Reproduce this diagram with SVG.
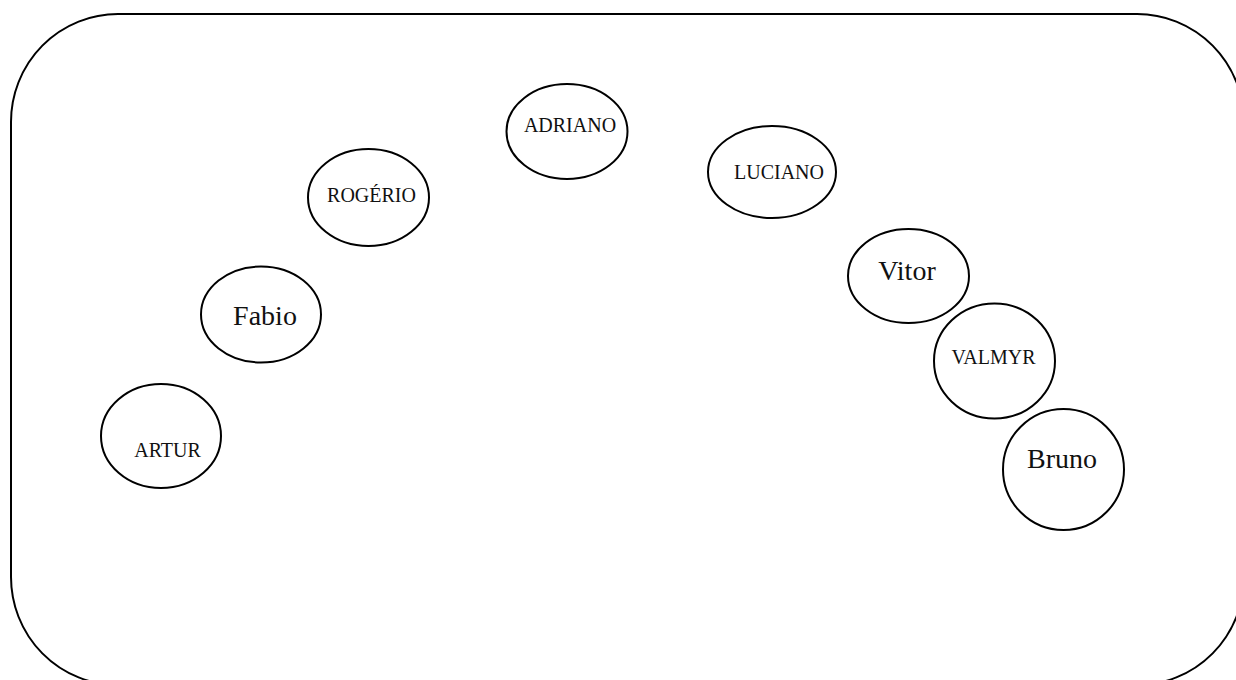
<svg xmlns="http://www.w3.org/2000/svg" width="1236" height="680" viewBox="0 0 1236 680">
<style>
.frame{fill:none;stroke:#000;stroke-width:2}
.node ellipse{fill:#fff;stroke:#000;stroke-width:2}
.node text{font-family:"Liberation Serif","DejaVu Serif",serif;fill:#111;text-anchor:middle}
.caps{font-size:20px}
.big{font-size:28px}
</style>
<rect class="frame" x="11" y="14" width="1233" height="671" rx="107" ry="108"/>
<g id="connectors"></g>
<g id="artur" class="node"><ellipse cx="161" cy="436" rx="60" ry="52"/><text class="caps" x="167.5" y="457">ARTUR</text></g>
<g id="fabio" class="node"><ellipse cx="261" cy="314.5" rx="60" ry="48"/><text class="big" x="265" y="325">Fabio</text></g>
<g id="rogerio" class="node"><ellipse cx="368.5" cy="197.5" rx="60.5" ry="48.5"/><text class="caps" x="371.5" y="201.5">ROGÉRIO</text></g>
<g id="adriano" class="node"><ellipse cx="567" cy="131.5" rx="60.5" ry="47.5"/><text class="caps" x="570" y="131.5">ADRIANO</text></g>
<g id="luciano" class="node"><ellipse cx="772" cy="172" rx="64" ry="46"/><text class="caps" x="779" y="179">LUCIANO</text></g>
<g id="vitor" class="node"><ellipse cx="908.5" cy="276" rx="60.5" ry="47"/><text class="big" x="907" y="280">Vitor</text></g>
<g id="valmyr" class="node"><ellipse cx="994.5" cy="361" rx="60.5" ry="57.5"/><text class="caps" x="993.5" y="364">VALMYR</text></g>
<g id="bruno" class="node"><ellipse cx="1063.5" cy="469.5" rx="60.5" ry="60.5"/><text class="big" x="1062" y="468">Bruno</text></g>
</svg>
